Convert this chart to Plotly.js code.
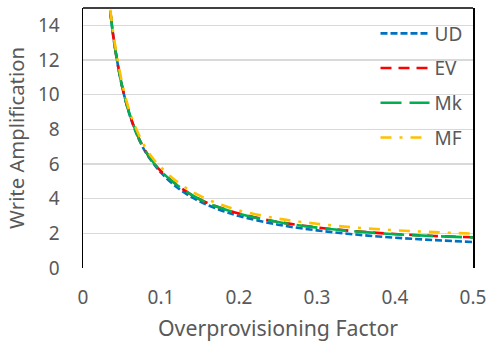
<!DOCTYPE html>
<html>
<head>
<meta charset="utf-8">
<script src="https://cdn.plot.ly/plotly-3.0.1.min.js"></script>
<style>html,body{margin:0;padding:0;background:#fff;}#chart{width:488px;height:346px;}</style>
</head>
<body>
<div id="chart"></div>
<script>
const opFactor = [0.035, 0.04, 0.05, 0.06, 0.07, 0.08, 0.09, 0.1, 0.12, 0.14, 0.16, 0.18, 0.2, 0.25, 0.3, 0.35, 0.4, 0.45, 0.5];
const waUD = [14.8, 13.0, 10.5, 8.8, 7.6, 6.7, 6.05, 5.5, 4.67, 4.07, 3.63, 3.28, 3.0, 2.5, 2.17, 1.93, 1.75, 1.61, 1.5];
const waEV = [14.8, 13.0, 10.5, 8.85, 7.65, 6.75, 6.1, 5.58, 4.8, 4.2, 3.74, 3.42, 3.14, 2.66, 2.34, 2.12, 1.96, 1.85, 1.77];
const waMk = [14.8, 13.0, 10.5, 8.85, 7.65, 6.75, 6.1, 5.58, 4.8, 4.2, 3.74, 3.41, 3.13, 2.65, 2.33, 2.11, 1.95, 1.84, 1.76];
const waMF = [14.9, 13.2, 10.7, 9.0, 7.85, 6.95, 6.3, 5.8, 5.0, 4.4, 3.95, 3.6, 3.32, 2.85, 2.55, 2.33, 2.18, 2.07, 1.98];
const seriesNames = ["UD", "EV", "Mk", "MF"];
const seriesData = [waUD, waEV, waMk, waMF];
const seriesColors = ["#0070C0", "#FF0000", "#00B050", "#FFC000"];
const seriesDash = ["7px,3px", "11px,7px", "21px,8px", "11px,8px,3px,8px"];

const font = "'Noto Sans', 'Open Sans', sans-serif";
const traces = seriesNames.map((n, i) => ({
  x: opFactor, y: seriesData[i], name: n, type: "scatter", mode: "lines",
  line: {color: seriesColors[i], width: 2.6, dash: seriesDash[i], shape: "spline"},
  legendgroup: n
}));

const layout = {
  width: 488, height: 346,
  margin: {l: 83, r: 15, t: 8, b: 78},
  paper_bgcolor: "#fff", plot_bgcolor: "#fff",
  font: {family: font, color: "#595959", size: 19},
  showlegend: true,
  legend: {x: 0.75, y: 0.975, xanchor: "left", yanchor: "top", bgcolor: "rgba(0,0,0,0)",
    font: {size: 19, color: "#595959"}, tracegroupgap: 7, itemwidth: 49},
  xaxis: {range: [0, 0.5], dtick: 0.1, tick0: 0, showgrid: false, zeroline: false, showline: false,
    ticks: "", ticklabelstandoff: 16, tickfont: {size: 19},
    title: {text: "Overprovisioning Factor", font: {size: 21.3}, standoff: 12}},
  yaxis: {range: [0, 15], dtick: 2, tick0: 0, showgrid: true, gridcolor: "#D9D9D9", gridwidth: 1.5,
    zeroline: false, showline: true, linecolor: "#000", linewidth: 1.5, mirror: true,
    ticks: "", ticklabelstandoff: 18, tickfont: {size: 19},
    title: {text: "Write Amplification", font: {size: 20.3}, standoff: 8}},
  shapes: [{type: "line", xref: "paper", yref: "paper", x0: 0, x1: 1, y0: 1, y1: 1,
    line: {color: "#000", width: 1.5}}]
};
Plotly.newPlot("chart", traces, layout, {displayModeBar: false, staticPlot: true});
</script>
</body>
</html>
